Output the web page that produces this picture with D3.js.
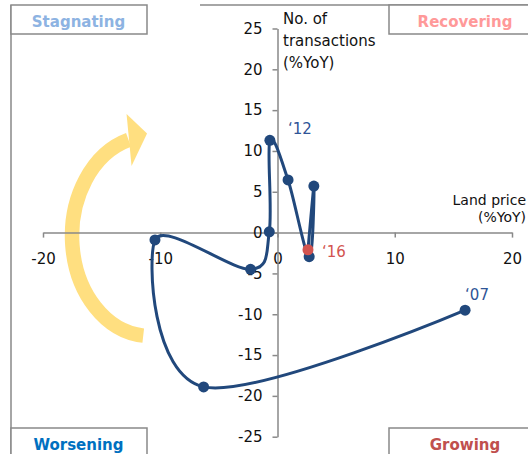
<!DOCTYPE html>
<html>
<head>
<meta charset="utf-8">
<script src="https://cdn.jsdelivr.net/npm/d3@7"></script>
<style>
  html, body { margin: 0; padding: 0; background: #fff; }
  svg { display: block; font-family: "DejaVu Sans", Verdana, sans-serif; }
</style>
</head>
<body>
<svg id="chart" width="528" height="454"></svg>
<script>
// Yearly land price vs. number of transactions (both % year on year)
const years        = ["‘07", "‘08", "‘09", "‘10", "‘11", "‘12", "‘13", "‘14", "‘15", "‘16"];
const landPrice    = [16.0, -6.3, -10.45, -2.3, -0.7, -0.65, 0.9, 2.7, 3.1, 2.6];
const transactions = [-9.5, -18.9, -0.9, -4.5, 0.1, 11.3, 6.45, -2.95, 5.7, -2.1];
const labelledYears = ["‘07", "‘12", "‘16"];

const xTicks = [-20, -10, 0, 10, 20];
const yTicks = [-25, -20, -15, -10, -5, 0, 5, 10, 15, 20, 25];

const quadrants = [
  { name: "Stagnating", colour: "#8db3e2", corner: "tl" },
  { name: "Recovering", colour: "#ff9999", corner: "tr" },
  { name: "Worsening",  colour: "#0070c0", corner: "bl" },
  { name: "Growing",    colour: "#c0504d", corner: "br" }
];

const W = 528, H = 454;
const svg = d3.select("#chart");

const x = d3.scaleLinear().domain([-20, 20]).range([43, 512]);
const y = d3.scaleLinear().domain([-25, 25]).range([436.7, 28.5]);

const axisGrey = "#898989";
const lineBlue = "#21487c";
const markRed  = "#d25450";

// Curved cycle arrow (drawn first so the axes sit on top of it)
const arrow = svg.append("g").attr("class", "cycle-arrow");
const cx = x(-10.87), cy = y(-0.42), rx = 78, ry = 100;
const ang = a => [cx + rx * Math.cos(a), cy + ry * Math.sin(a)];
const a0 = 95 * Math.PI / 180, a1 = 254 * Math.PI / 180;
const p0 = ang(a0), p1 = ang(a1);
arrow.append("path")
  .attr("d", `M${p0[0]},${p0[1]} A${rx},${ry} 0 0 1 ${p1[0]},${p1[1]}`)
  .attr("fill", "none")
  .attr("stroke", "#ffdf80")
  .attr("stroke-width", 14.5);
arrow.append("path")
  .attr("d", `M${p1[0] - 2},${p1[1] - 26} L${p1[0] + 18.5},${p1[1] - 6.5} L${p1[0] + 3},${p1[1] + 26} Z`)
  .attr("fill", "#ffdf80");

// Outer frame fragments
svg.append("line").attr("x1", 11).attr("x2", 11).attr("y1", 5).attr("y2", H)
  .attr("stroke", axisGrey).attr("stroke-width", 1.5);
svg.append("line").attr("x1", 200).attr("x2", W).attr("y1", 5).attr("y2", 5)
  .attr("stroke", axisGrey).attr("stroke-width", 1.5);

// Quadrant name boxes
const boxW = 136, boxH = 29;
quadrants.forEach(q => {
  const left = q.corner[1] === "l";
  const top = q.corner[0] === "t";
  const bx = left ? 11 : 389;
  const bw = left ? boxW : 150;
  const by = top ? 5 : 428;
  const g = svg.append("g").attr("class", "quadrant");
  g.append("rect")
    .attr("x", bx).attr("y", by).attr("width", bw).attr("height", top ? boxH : 40)
    .attr("fill", "#fff").attr("stroke", axisGrey).attr("stroke-width", 1.5);
  g.append("text")
    .attr("x", left ? 78.5 : 465)
    .attr("y", top ? 27 : 450)
    .attr("text-anchor", "middle")
    .attr("font-size", 15)
    .attr("font-weight", "bold")
    .attr("fill", q.colour)
    .text(q.name);
});

// Axes through the origin
const xAxis = svg.append("g")
  .attr("transform", `translate(0,${y(0)})`)
  .call(d3.axisBottom(x).tickValues(xTicks).tickSize(5).tickSizeOuter(0).tickPadding(16).tickFormat(d3.format("d")));
const yAxis = svg.append("g")
  .attr("transform", `translate(${x(0)},0)`)
  .call(d3.axisLeft(y).tickValues(yTicks).tickSize(5).tickSizeOuter(0).tickPadding(10).tickFormat(d3.format("d")));

[xAxis, yAxis].forEach(g => {
  g.select(".domain").attr("stroke", axisGrey).attr("stroke-width", 1.5);
  g.selectAll(".tick line").attr("stroke", axisGrey).attr("stroke-width", 1.5);
  g.selectAll(".tick text")
    .attr("font-family", "'DejaVu Sans', Verdana, sans-serif")
    .attr("font-size", 15)
    .attr("fill", "#111");
});
// plain hyphen minus signs
xAxis.selectAll(".tick text").text(d => String(d).replace("−", "-"));
yAxis.selectAll(".tick text").text(d => String(d).replace("−", "-"));

// Axis titles
const yTitle = svg.append("text")
  .attr("font-size", 15).attr("fill", "#111");
["No. of", "transactions", "(%YoY)"].forEach((t, i) =>
  yTitle.append("tspan").attr("x", 283).attr("y", 24 + i * 22).text(t));

const xTitle = svg.append("text")
  .attr("font-size", 14).attr("fill", "#111").attr("text-anchor", "end");
["Land price", "(%YoY)"].forEach((t, i) =>
  xTitle.append("tspan").attr("x", 526).attr("y", 205 + i * 17).text(t));

// Trajectory
const pts = years.map((yr, i) => ({ yr, lp: landPrice[i], tr: transactions[i] }));
const line = d3.line()
  .x(d => x(d.lp))
  .y(d => y(d.tr))
  .curve(d3.curveCardinal.tension(0));

svg.append("path")
  .datum(pts)
  .attr("d", line)
  .attr("fill", "none")
  .attr("stroke", lineBlue)
  .attr("stroke-width", 3)
  .attr("stroke-linejoin", "round");

const last = pts.length - 1;
svg.append("g").selectAll("circle")
  .data(pts)
  .join("circle")
  .attr("cx", d => x(d.lp))
  .attr("cy", d => y(d.tr))
  .attr("r", 5.5)
  .attr("fill", (d, i) => i === last ? markRed : lineBlue);

// Year annotations
const labelOffset = { "‘07": [0, -10], "‘12": [18, -6], "‘16": [14, 7] };
svg.append("g").selectAll("text")
  .data(pts.filter(d => labelledYears.includes(d.yr)))
  .join("text")
  .attr("x", d => x(d.lp) + labelOffset[d.yr][0])
  .attr("y", d => y(d.tr) + labelOffset[d.yr][1])
  .attr("font-size", 15)
  .attr("fill", d => d.yr === years[last] ? markRed : "#2f5597")
  .text(d => d.yr);
</script>
</body>
</html>
